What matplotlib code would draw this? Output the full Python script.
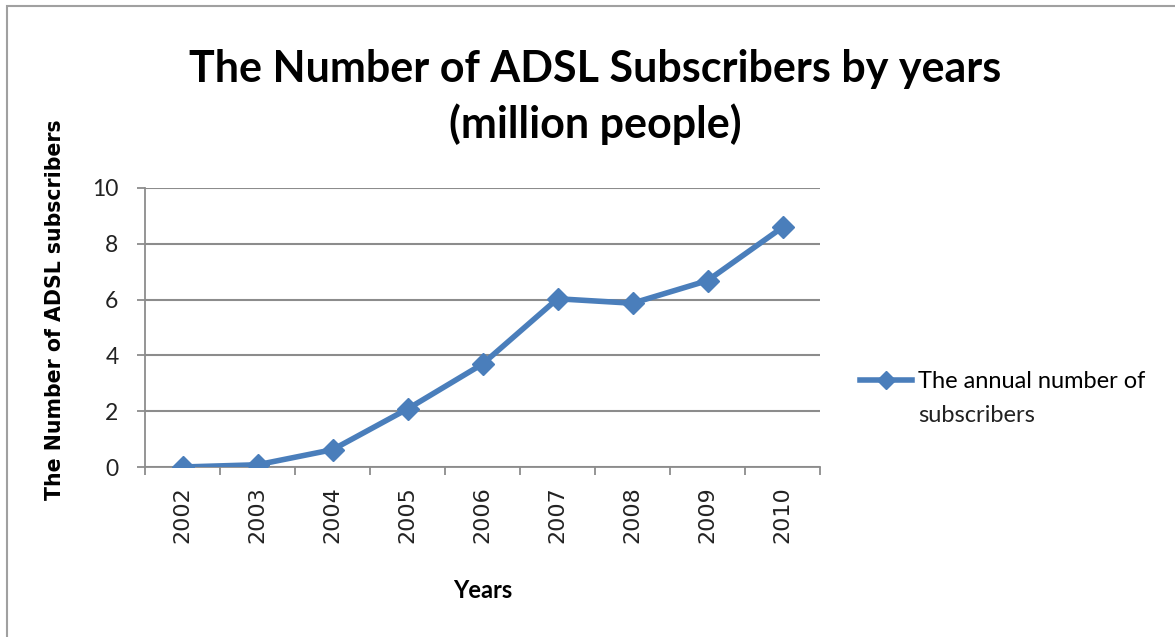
import matplotlib
matplotlib.use("Agg")
import matplotlib.pyplot as plt
from matplotlib.patches import Rectangle
from matplotlib.lines import Line2D

years = ["2002", "2003", "2004", "2005", "2006", "2007", "2008", "2009", "2010"]
subscribers = [0.0, 0.08, 0.62, 2.08, 3.69, 6.03, 5.87, 6.68, 8.59]
y_ticks = [0, 2, 4, 6, 8, 10]

title = "The Number of ADSL Subscribers by years\n(million people)"
series_name_1 = "The annual number of"
series_name_2 = "subscribers"

line_color = "#4a7ebb"
grid_color = "#8c8c8c"

fig = plt.figure(figsize=(11.75, 6.37), dpi=100)
fig.patch.set_facecolor("white")
fig.add_artist(Rectangle((7/1175, -0.01), 1.2, 1 - 6/637 + 0.01, transform=fig.transFigure,
                         fill=False, edgecolor="#a0a0a0", linewidth=1.5))

ax = fig.add_axes([145/1175, 1 - 467/637, (820-145)/1175, (467-188)/637])
x = list(range(len(years)))
ax.plot(x, subscribers, color=line_color, linewidth=4, marker="D", markersize=11,
        markeredgecolor=line_color, markerfacecolor=line_color, zorder=3)

ax.set_xlim(-0.5, len(years) - 0.5)
ax.set_ylim(0, 10)
ax.set_yticks(y_ticks)
ax.set_yticklabels([str(v) for v in y_ticks], fontfamily="Lato", fontsize=16.5, color="#222222")
ax.set_xticks(x)
ax.set_xticklabels(years, rotation=90, fontfamily="DejaVu Sans", fontsize=16, color="#222222")
ax.tick_params(axis="x", length=0, pad=14)
ax.set_xticks([i - 0.5 for i in range(len(years) + 1)], minor=True)
ax.tick_params(axis="x", which="minor", length=6, color=grid_color, width=1.3)
ax.tick_params(axis="y", length=6, color=grid_color, width=1.3, pad=13)

ax.grid(axis="y", color=grid_color, linewidth=1.5)
ax.set_axisbelow(True)
for s in ["top", "right"]:
    ax.spines[s].set_visible(False)
ax.spines["left"].set_color(grid_color)
ax.spines["bottom"].set_color(grid_color)
ax.spines["left"].set_linewidth(1.3)
ax.spines["bottom"].set_linewidth(1.3)

fig.text(595/1175, 1 - 97/637, title, ha="center", va="center", fontfamily="Lato",
         fontweight="bold", fontsize=31, linespacing=1.4)

fig.text(55/1175, 1 - 310/637, "The Number of ADSL subscribers", rotation=90, ha="center",
         va="center", fontfamily="DejaVu Sans", fontweight="bold", fontsize=14.8)
fig.text(483/1175, 1 - 590/637, "Years", ha="center", va="center", fontfamily="Lato",
         fontweight="bold", fontsize=17)

handle = Line2D([], [], color=line_color, linewidth=4, marker="D", markersize=9)
leg = fig.legend([handle], [series_name_1], loc="center left",
                 bbox_to_anchor=(860/1175, 1 - 382/637), frameon=False,
                 prop={"family": "Lato", "size": 17}, handlelength=2.2, handletextpad=0.25,
                 borderpad=0, borderaxespad=0)
fig.text(918/1175, 1 - 415/637, series_name_2, ha="left", va="center", fontfamily="Lato",
         fontsize=17, color="#222222")

fig.savefig("out.png", dpi=100)
